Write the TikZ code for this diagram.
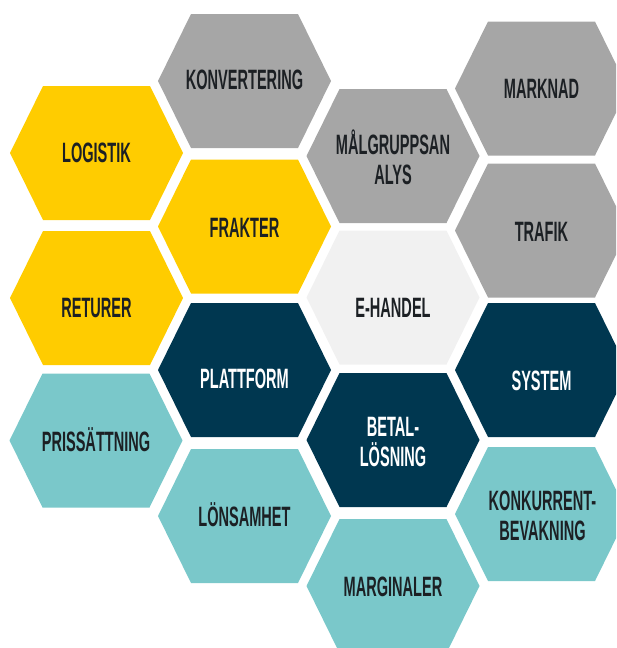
\documentclass[tikz,border=0pt]{standalone}
\usepackage{fontspec}
\newfontfamily\hexfont{Liberation Sans}[FakeStretch=0.52]
\usetikzlibrary{positioning}
\definecolor{hexyellow}{RGB}{255,204,0}
\definecolor{hexgray}{RGB}{166,166,166}
\definecolor{hexnavy}{RGB}{0,55,80}
\definecolor{hexteal}{RGB}{122,200,202}
\definecolor{hexlight}{RGB}{241,241,241}
\definecolor{txtdark}{RGB}{28,32,36}
\tikzset{hexcell/.pic={\fill[pic actions] (-86.5,0) -- (-53.5,67) -- (53.5,67) -- (86.5,0) -- (53.5,-67) -- (-53.5,-67) -- cycle;}}
\tikzstyle{lbl}=[font=\hexfont\bfseries\fontsize{28}{30}\selectfont, text=txtdark, align=center, inner sep=0pt]
\tikzstyle{lbl1}=[lbl, text height=19.5pt, text depth=0pt]
\tikzstyle{lblw}=[lbl1, text=white]

\begin{document}
\begin{tikzpicture}[x=1pt,y=-1pt]
\path[use as bounding box, clip] (0,0) rectangle (616,648);

% yellow
\pic[fill=hexyellow] at (96.5,153) {hexcell};
\node[lbl1] (logistik) at (96.5,153) {LOGISTIK};
\pic[fill=hexyellow] at (96.5,298) {hexcell};
\node[lbl1] (returer) at (96.5,308) {RETURER};
\pic[fill=hexyellow] at (244.5,226.5) {hexcell};
\node[lbl1] (frakter) at (244.5,228) {FRAKTER};

% gray
\pic[fill=hexgray] at (244.5,81) {hexcell};
\node[lbl1] (konvertering) at (244.5,80) {KONVERTERING};
\pic[fill=hexgray] at (393,156) {hexcell};
\node[lbl] (malgrupp) at (393,157.5) {MÅLGRUPPSAN\\ALYS};
\pic[fill=hexgray] at (541.5,88.5) {hexcell};
\node[lbl1] (marknad) at (541.5,89) {MARKNAD};
\pic[fill=hexgray] at (541.5,230.5) {hexcell};
\node[lbl1] (trafik) at (541.5,232) {TRAFIK};

% centre
\pic[fill=hexlight] at (393,297.5) {hexcell};
\node[lbl1] (ehandel) at (393,308) {E-HANDEL};

% navy
\pic[fill=hexnavy] at (244.5,370) {hexcell};
\node[lblw] (plattform) at (244.5,379) {PLATTFORM};
\pic[fill=hexnavy] at (393,440) {hexcell};
\node[lbl, text=white] (betal) at (393,441.5) {BETAL-\\LÖSNING};
\pic[fill=hexnavy] at (541.5,370) {hexcell};
\node[lblw] (system) at (541.5,381) {SYSTEM};

% teal
\pic[fill=hexteal] at (96,440.5) {hexcell};
\node[lbl1] (pris) at (96,442) {PRISSÄTTNING};
\pic[fill=hexteal] at (244.5,516) {hexcell};
\node[lbl1] (lonsamhet) at (244.5,517) {LÖNSAMHET};
\pic[fill=hexteal] at (393,586) {hexcell};
\node[lbl1] (marginaler) at (393,587) {MARGINALER};
\pic[fill=hexteal] at (541.5,514) {hexcell};
\node[lbl] (konkurrent) at (542.5,516) {KONKURRENT-\\BEVAKNING};
\end{tikzpicture}
\end{document}
